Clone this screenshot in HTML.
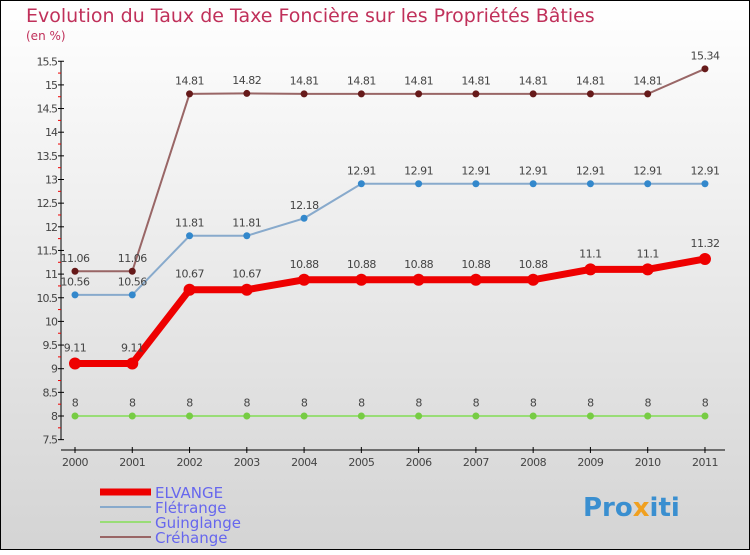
<!DOCTYPE html>
<html><head><meta charset="utf-8"><style>
body{margin:0;width:750px;height:550px;overflow:hidden;font-family:"Liberation Sans",sans-serif}
svg text{font-family:"DejaVu Sans","Liberation Sans",sans-serif}
</style></head><body>
<svg id="c" width="750" height="550" xmlns="http://www.w3.org/2000/svg">
<defs><linearGradient id="bg" x1="0" y1="0" x2="0" y2="1"><stop offset="0" stop-color="#ffffff"/><stop offset="1" stop-color="#d4d4d4"/></linearGradient></defs>
<rect x="0.5" y="0.5" width="749" height="549" fill="url(#bg)" stroke="#000"/>
<text x="26" y="22" font-size="19" fill="#c0305a">Evolution du Taux de Taxe Foncière sur les Propriétés Bâties</text>
<text x="26" y="40" font-size="12" fill="#c0305a">(en %)</text>
<g id="axes"></g><g id="series"></g><g id="legend"></g>
<text x="583" y="516" font-size="26" font-weight="bold" fill="#3a8fd0">Pro<tspan fill="#f0a020">x</tspan>iti</text>
</svg>
<script>
const years=[2000,2001,2002,2003,2004,2005,2006,2007,2008,2009,2010,2011];
const elvange=[9.11,9.11,10.67,10.67,10.88,10.88,10.88,10.88,10.88,11.1,11.1,11.32];
const fletrange=[10.56,10.56,11.81,11.81,12.18,12.91,12.91,12.91,12.91,12.91,12.91,12.91];
const guinglange=[8,8,8,8,8,8,8,8,8,8,8,8];
const crehange=[11.06,11.06,14.81,14.82,14.81,14.81,14.81,14.81,14.81,14.81,14.81,15.34];
const yTicks=[7.5,8,8.5,9,9.5,10,10.5,11,11.5,12,12.5,13,13.5,14,14.5,15,15.5];
const NS="http://www.w3.org/2000/svg";
const X=i=>75+i*57.27, Y=v=>416-(v-8)*47.3;
function mk(t,a,p){const e=document.createElementNS(NS,t);for(const k in a)e.setAttribute(k,a[k]);p.appendChild(e);return e;}
const ax=document.getElementById('axes');
let l=mk('line',{x1:61,y1:Y(15.5),x2:61,y2:Y(7.5),stroke:'#000'},ax);


yTicks.forEach(v=>{
 const y=Y(v);
 mk('line',{x1:58,y1:y,x2:64,y2:y,stroke:'#000'},ax);
 mk('line',{x1:58,y1:Y(v+0.25),x2:61,y2:Y(v+0.25),stroke:v<15.5?'#e00':'none'},ax);
 const t=mk('text',{x:57,y:y+4,'font-size':11,fill:'#444','text-anchor':'end','letter-spacing':'-1'},ax);
 t.textContent=v;
 
 
});
l=mk('line',{x1:61,y1:450,x2:725,y2:450,stroke:'#000'},ax);


years.forEach((yr,i)=>{
 mk('line',{x1:X(i),y1:447,x2:X(i),y2:453,stroke:'#000'},ax);
 const t=mk('text',{x:X(i),y:466,'font-size':11,fill:'#444','text-anchor':'middle','letter-spacing':'-0.5'},ax);
 t.textContent=yr;
 
 
});
const S=document.getElementById('series');
const defs=[
 {d:guinglange,n:'guinglange',c:'#99dd77',w:2,r:3.5,f:'#77cc44'},
 {d:fletrange,n:'fletrange',c:'#88aacc',w:2,r:3.5,f:'#3388cc'},
 {d:crehange,n:'crehange',c:'#996666',w:2,r:3.5,f:'#661a1a'},
 {d:elvange,n:'elvange',c:'#ee0000',w:7,r:6,f:'#ee0000'}];
defs.forEach(s=>{
 const g=mk('g',{},S);
 
 
 const p=mk('polyline',{points:s.d.map((v,i)=>X(i)+','+Y(v)).join(' '),fill:'none',stroke:s.c,'stroke-width':s.w},g);
 
 
 s.d.forEach((v,i)=>{
  const c=mk('circle',{cx:X(i),cy:Y(v),r:s.r,fill:s.f},g);
  
  
  const t=mk('text',{x:X(i),y:Y(v)-(s.r+6),'font-size':11,fill:'#444','text-anchor':'middle','letter-spacing':'-0.5'},g);
  t.textContent=v;
  
  
 });
});
const L=document.getElementById('legend');
[['ELVANGE','#ee0000',7],['Flétrange','#88aacc',2],['Guinglange','#99dd77',2],['Créhange','#996666',2]].forEach((e,i)=>{
 const y=492+i*15;
 const g=mk('g',{},L);
 
 
 mk('line',{x1:100,y1:y,x2:151,y2:y,stroke:e[1],'stroke-width':e[2]},g);
 const t=mk('text',{x:155,y:y+6,'font-size':15,fill:'#6666ee'},g);
 t.textContent=e[0];
});
</script>
</body></html>
